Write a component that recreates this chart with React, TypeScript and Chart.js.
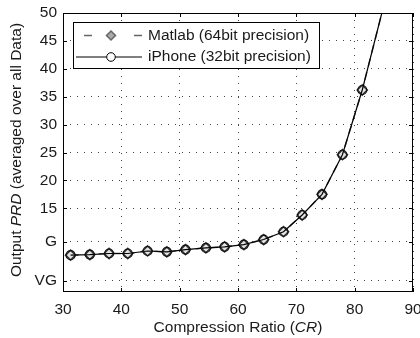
import React, { useEffect, useRef } from "react";
import { Chart, registerables } from "chart.js";

Chart.register(...registerables);

const CR_VALUES = [31.3, 34.6, 37.9, 41.1, 44.5, 47.8, 51.0, 54.5, 57.7, 61.0, 64.4, 67.8, 71.0, 74.4, 77.9, 81.3, 84.9];
const PRD_MATLAB = [6.6, 6.7, 6.9, 6.9, 7.35, 7.2, 7.6, 7.9, 8.1, 8.5, 9.4, 10.8, 13.8, 17.5, 24.6, 36.2, 51.0];
const PRD_IPHONE = [6.6, 6.7, 6.9, 6.9, 7.35, 7.2, 7.6, 7.9, 8.1, 8.5, 9.4, 10.8, 13.8, 17.5, 24.6, 36.2, 51.0];
const X_TICKS = [30, 40, 50, 60, 70, 80, 90];
const Y_TICKS = [2, 9, 15, 20, 25, 30, 35, 40, 45, 50];
const Y_TICK_LABELS = ["VG", "G", "15", "20", "25", "30", "35", "40", "45", "50"];
const SERIES_NAMES = ["Matlab (64bit precision)", "iPhone (32bit precision)"];

const FONT_FAMILY = '"Liberation Sans", Arial, Helvetica, sans-serif';
const FONT_SIZE = 15.5;
const TEXT_COLOR = "#1a1a1a";

function drawMixed(ctx: CanvasRenderingContext2D, parts: { t: string; i: boolean }[], cx: number, cy: number) {
  const widths = parts.map((p) => {
    ctx.font = `${p.i ? "italic " : ""}${FONT_SIZE}px ${FONT_FAMILY}`;
    return ctx.measureText(p.t).width;
  });
  const total = widths.reduce((a, b) => a + b, 0);
  let x = cx - total / 2;
  ctx.textAlign = "left";
  ctx.textBaseline = "middle";
  ctx.fillStyle = TEXT_COLOR;
  parts.forEach((p, k) => {
    ctx.font = `${p.i ? "italic " : ""}${FONT_SIZE}px ${FONT_FAMILY}`;
    ctx.fillText(p.t, x, cy);
    x += widths[k];
  });
}

const decorPlugin = {
  id: "decor",
  afterDraw(chart: any) {
    const ctx: CanvasRenderingContext2D = chart.ctx;
    const a = chart.chartArea;
    const xs = chart.scales.x;
    const ys = chart.scales.y;
    ctx.save();
    // frame
    ctx.strokeStyle = "#000";
    ctx.lineWidth = 1;
    ctx.setLineDash([]);
    ctx.strokeRect(Math.round(a.left) + 0.5, Math.round(a.top) + 0.5, Math.round(a.right - a.left) - 1, Math.round(a.bottom - a.top) - 1);
    // inside ticks
    const tl = 4;
    ctx.beginPath();
    X_TICKS.forEach((v) => {
      const px = Math.round(xs.getPixelForValue(v)) + 0.5;
      ctx.moveTo(px, a.bottom);
      ctx.lineTo(px, a.bottom - tl);
      ctx.moveTo(px, a.top);
      ctx.lineTo(px, a.top + tl);
    });
    Y_TICKS.forEach((v) => {
      const py = Math.round(ys.getPixelForValue(v)) + 0.5;
      ctx.moveTo(a.left, py);
      ctx.lineTo(a.left + tl, py);
      ctx.moveTo(a.right, py);
      ctx.lineTo(a.right - tl, py);
    });
    ctx.stroke();

    // axis titles
    drawMixed(ctx, [{ t: "Compression Ratio (", i: false }, { t: "CR", i: true }, { t: ")", i: false }], (a.left + a.right) / 2, 328);
    ctx.save();
    ctx.translate(17, 150);
    ctx.rotate(-Math.PI / 2);
    drawMixed(ctx, [{ t: "Output ", i: false }, { t: "PRD", i: true }, { t: " (averaged over all Data)", i: false }], 0, 0);
    ctx.restore();

    // legend
    const lx = a.left + 10, ly = a.top + 9, lw = 246, lh = 46;
    ctx.fillStyle = "#fff";
    ctx.fillRect(lx, ly, lw, lh);
    ctx.strokeStyle = "#000";
    ctx.lineWidth = 1;
    ctx.strokeRect(Math.round(lx) + 0.5, Math.round(ly) + 0.5, lw, lh);
    const r1 = ly + 13.5, r2 = ly + 35;
    // Matlab sample
    ctx.strokeStyle = "#666";
    ctx.lineWidth = 1.5;
    ctx.beginPath();
    ctx.moveTo(lx + 11, r1); ctx.lineTo(lx + 19, r1);
    ctx.moveTo(lx + 61, r1); ctx.lineTo(lx + 69, r1);
    ctx.stroke();
    const dx = lx + 38;
    ctx.beginPath();
    ctx.moveTo(dx, r1 - 4.5); ctx.lineTo(dx + 4.5, r1); ctx.lineTo(dx, r1 + 4.5); ctx.lineTo(dx - 4.5, r1); ctx.closePath();
    ctx.fillStyle = "#aaa";
    ctx.fill();
    ctx.strokeStyle = "#666";
    ctx.stroke();
    // iPhone sample
    ctx.strokeStyle = "#000";
    ctx.lineWidth = 1;
    ctx.beginPath();
    ctx.moveTo(lx + 3, r2); ctx.lineTo(lx + 69, r2);
    ctx.stroke();
    ctx.beginPath();
    ctx.arc(dx, r2, 4.3, 0, Math.PI * 2);
    ctx.fillStyle = "#fff";
    ctx.fill();
    ctx.stroke();
    ctx.fillStyle = TEXT_COLOR;
    ctx.font = `${FONT_SIZE}px ${FONT_FAMILY}`;
    ctx.textAlign = "left";
    ctx.textBaseline = "middle";
    ctx.fillText(SERIES_NAMES[0], lx + 75, r1);
    ctx.fillText(SERIES_NAMES[1], lx + 75, r2);
    ctx.restore();
  },
};

export default function App() {
  const ref = useRef<HTMLCanvasElement>(null);
  useEffect(() => {
    const canvas = ref.current!;
    const chart = new Chart(canvas, {
      type: "line",
      data: {
        datasets: [
          {
            label: SERIES_NAMES[0],
            data: CR_VALUES.map((x, i) => ({ x, y: PRD_MATLAB[i] })),
            borderColor: "#555",
            borderWidth: 1.5,
            borderDash: [8, 6],
            pointStyle: "rectRot",
            pointRadius: 5,
            pointBackgroundColor: "#e4e4e4",
            pointBorderColor: "#333",
            pointBorderWidth: 1.6,
            tension: 0,
            clip: 0,
            order: 2,
          },
          {
            label: SERIES_NAMES[1],
            data: CR_VALUES.map((x, i) => ({ x, y: PRD_IPHONE[i] })),
            borderColor: "#000",
            borderWidth: 1.2,
            pointStyle: "circle",
            pointRadius: 4.5,
            pointBackgroundColor: "rgba(0,0,0,0)",
            pointBorderColor: "#111",
            pointBorderWidth: 1.2,
            tension: 0,
            clip: 0,
            order: 1,
          },
        ],
      },
      options: {
        responsive: false,
        animation: false,
        layout: { padding: { top: 13, right: 7, left: 0, bottom: 0 } },
        plugins: { legend: { display: false }, tooltip: { enabled: false } },
        scales: {
          x: {
            type: "linear",
            min: 30,
            max: 90,
            afterBuildTicks: (s: any) => {
              s.ticks = X_TICKS.map((v) => ({ value: v }));
            },
            afterFit: (s: any) => {
              s.height = 46;
              s.paddingRight = 0;
              s.paddingLeft = 0;
            },
            ticks: {
              padding: 8,
              color: TEXT_COLOR,
              font: { family: FONT_FAMILY, size: FONT_SIZE },
              maxRotation: 0,
              autoSkip: false,
            },
            grid: { color: "#444", lineWidth: 1, drawTicks: false },
            border: { display: false, dash: [1, 6] },
          },
          y: {
            type: "linear",
            min: 0,
            max: 50,
            afterBuildTicks: (s: any) => {
              s.ticks = Y_TICKS.map((v) => ({ value: v }));
            },
            afterFit: (s: any) => {
              s.width = 63;
              s.paddingTop = 0;
              s.paddingBottom = 0;
            },
            ticks: {
              padding: 6,
              color: TEXT_COLOR,
              font: { family: FONT_FAMILY, size: FONT_SIZE },
              autoSkip: false,
              callback: (_v: any, i: number) => Y_TICK_LABELS[i],
            },
            grid: { color: "#444", lineWidth: 1, drawTicks: false },
            border: { display: false, dash: [1, 6] },
          },
        },
      },
      plugins: [decorPlugin],
    } as any);
    return () => chart.destroy();
  }, []);
  return (
    <div style={{ position: "absolute", left: 0, top: 0, width: 420, height: 338, background: "#fff" }}>
      <canvas ref={ref} width={420} height={338} style={{ display: "block", width: 420, height: 338 }} />
    </div>
  );
}
